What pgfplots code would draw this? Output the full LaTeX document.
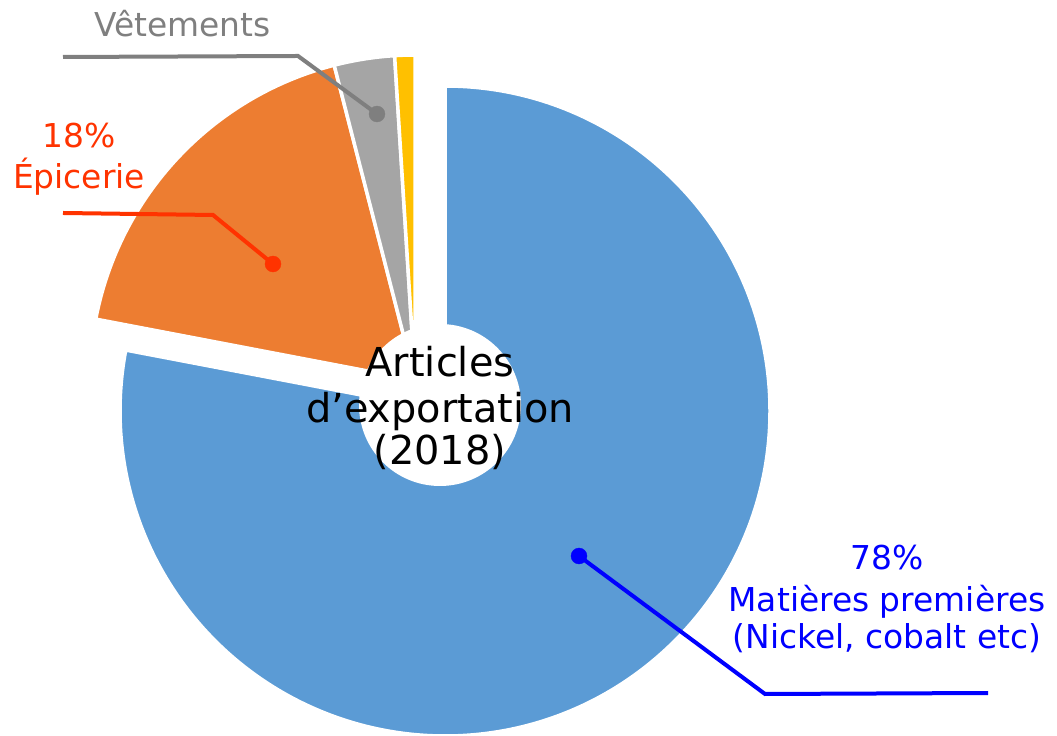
\documentclass[border=0pt]{standalone}
\usepackage{pgfplots}
\pgfplotsset{compat=1.18}
\usepackage{pgfplotstable}
\usepackage{fontspec}
\setmainfont{DejaVu Sans}
\definecolor{cblue}{HTML}{5B9BD5}
\definecolor{corange}{HTML}{ED7D31}
\definecolor{cgray}{HTML}{A5A5A5}
\definecolor{cyellow}{HTML}{FFC000}
\definecolor{lgray}{HTML}{7F7F7F}
\definecolor{lorange}{HTML}{FF3300}
\definecolor{lblue}{HTML}{0000FF}
\pgfplotstableread{
label value
Matieres 78
Epicerie 18
Vetements 3
Autres 1
}\exports
\begin{document}
\begin{tikzpicture}
\pgfplotstablegetelem{0}{value}\of\exports \let\vA\pgfplotsretval
\pgfplotstablegetelem{1}{value}\of\exports \let\vB\pgfplotsretval
\pgfplotstablegetelem{2}{value}\of\exports \let\vC\pgfplotsretval
\pgfplotstablegetelem{3}{value}\of\exports \let\vD\pgfplotsretval
\pgfmathsetmacro\aA{90}
\pgfmathsetmacro\aB{90-3.6*\vA}
\pgfmathsetmacro\aC{\aB-3.6*\vB}
\pgfmathsetmacro\aD{\aC-3.6*\vC}
\pgfmathsetmacro\aE{\aD-3.6*\vD}
\begin{axis}[width=1057bp,height=736bp,scale only axis,
  xmin=0,xmax=1057,ymin=0,ymax=736,axis lines=none,ticks=none,clip=false]
% slices
\fill[cblue,draw=white,line width=3.5bp] (axis cs:445,325) -- ++(\aA:325bp) arc[start angle=\aA,end angle=\aB,radius=325bp] -- cycle;
\fill[corange,draw=white,line width=3.5bp] (axis cs:415,356) -- ++(\aB:325bp) arc[start angle=\aB,end angle=\aC,radius=325bp] -- cycle;
\fill[cgray,draw=white,line width=3.5bp] (axis cs:415,356) -- ++(\aC:325bp) arc[start angle=\aC,end angle=\aD,radius=325bp] -- cycle;
\fill[cyellow,draw=white,line width=3.5bp] (axis cs:415,356) -- ++(\aD:325bp) arc[start angle=\aD,end angle=\aE,radius=325bp] -- cycle;
% hole
\fill[white] (axis cs:440,331) circle[radius=81bp];
% leader lines
\addplot[color=lgray,line width=4bp] coordinates {(63,679) (298,680) (377,622)};
\addplot[only marks,mark=*,mark size=8pt,color=lgray] coordinates {(377,622)};
\addplot[color=lorange,line width=4bp] coordinates {(63,523) (213,521) (273,472)};
\addplot[only marks,mark=*,mark size=8pt,color=lorange] coordinates {(273,472)};
\addplot[color=lblue,line width=4bp] coordinates {(579,180) (765,42) (988,43)};
\addplot[only marks,mark=*,mark size=8pt,color=lblue] coordinates {(579,180)};
% labels
\node[anchor=base,text=lgray,font=\fontsize{33}{40}\selectfont] at (axis cs:182.5,699) {Vêtements};
\node[anchor=base,text=lorange,font=\fontsize{33}{40}\selectfont] at (axis cs:79,588) {18\%};
\node[anchor=base,text=lorange,font=\fontsize{33}{40}\selectfont] at (axis cs:79,547) {Épicerie};
\node[anchor=base,text=lblue,font=\fontsize{33}{40}\selectfont] at (axis cs:887,166) {78\%};
\node[anchor=base,text=lblue,font=\fontsize{33}{40}\selectfont] at (axis cs:887,124) {Matières premières};
\node[anchor=base,text=lblue,font=\fontsize{33}{40}\selectfont] at (axis cs:887,87) {(Nickel, cobalt etc)};
% center
\node[anchor=base,text=black,font=\fontsize{40}{46}\selectfont] at (axis cs:440,359) {Articles};
\node[anchor=base,text=black,font=\fontsize{40}{46}\selectfont] at (axis cs:440,313) {d’exportation};
\node[anchor=base,text=black,font=\fontsize{40}{46}\selectfont] at (axis cs:440,271) {(2018)};
\end{axis}
\pgfresetboundingbox
\useasboundingbox (0,0) rectangle (1057bp,736bp);
\end{tikzpicture}
\end{document}
